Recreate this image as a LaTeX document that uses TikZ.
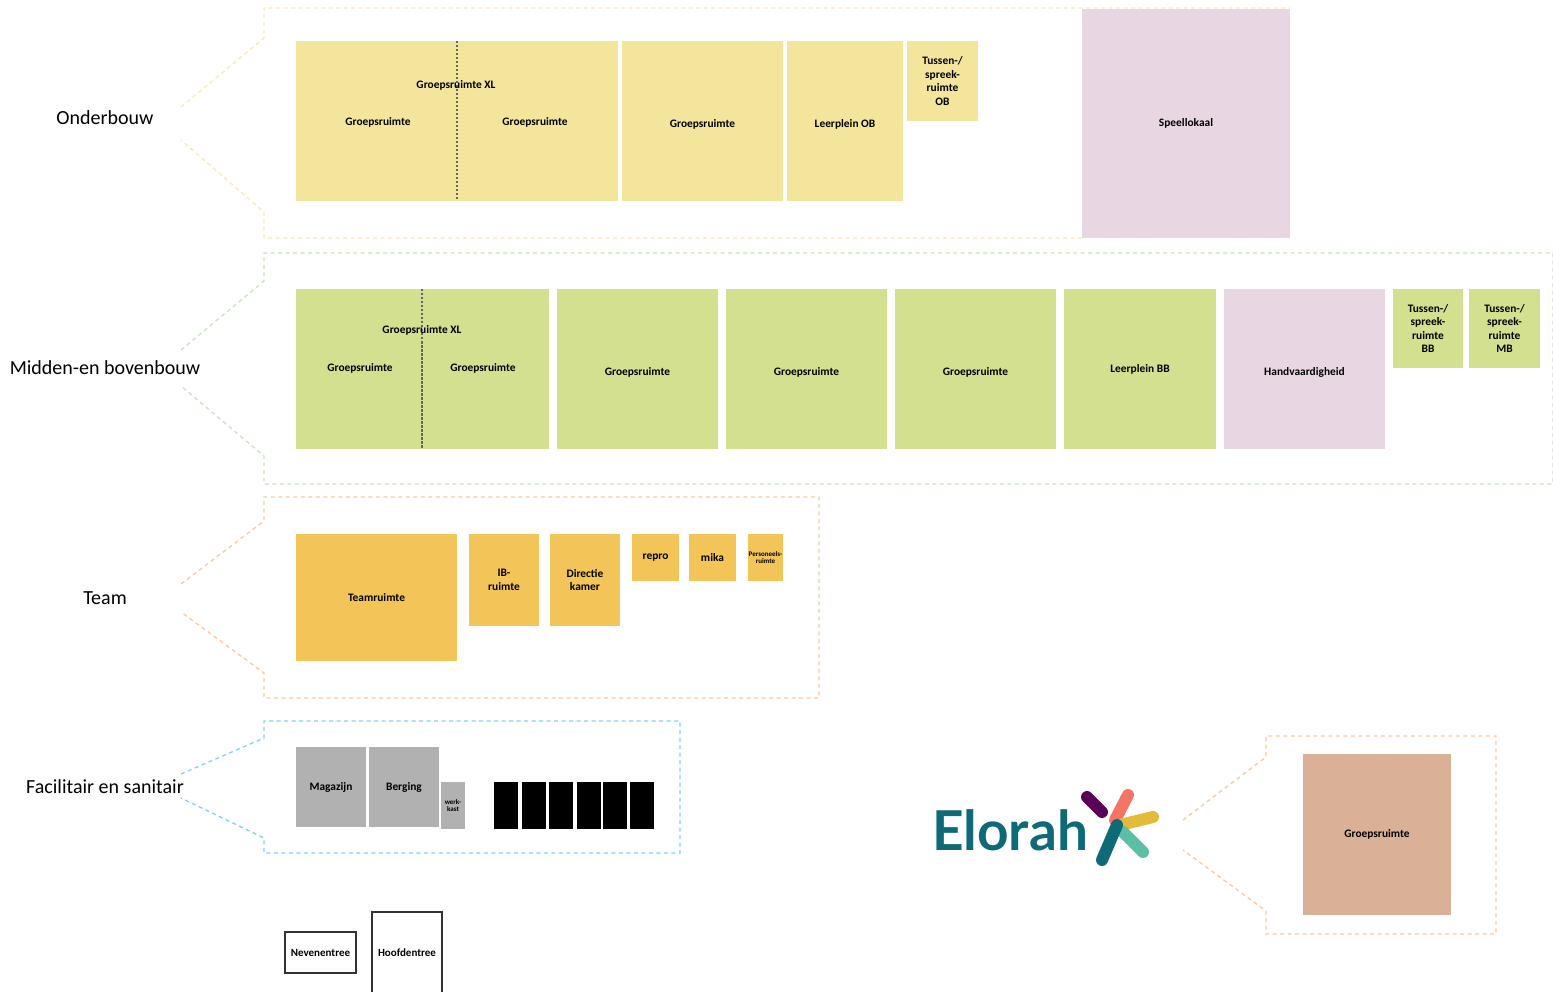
\documentclass[tikz,border=0pt]{standalone}
\usepackage{fontspec}
\setmainfont{Carlito}
\newfontfamily\logofont{Lato}
\usetikzlibrary{positioning}
\definecolor{geel}{HTML}{F3E69C}
\definecolor{groen}{HTML}{D3E08F}
\definecolor{oranje}{HTML}{F3C558}
\definecolor{roze}{HTML}{E8D7E3}
\definecolor{grijs}{HTML}{B0B1B0}
\definecolor{bruin}{HTML}{DAB196}
\definecolor{teal}{HTML}{0F6A78}
\definecolor{kadergeel}{HTML}{FBE9B4}
\definecolor{kadergroen}{HTML}{C6E4BF}
\definecolor{kaderoranje}{HTML}{F9C99C}
\definecolor{kaderblauw}{HTML}{7FD3EF}
\tikzstyle{room} = [rectangle, inner sep=0pt, outer sep=0pt, align=center,
    font=\fontsize{11.4}{13.6}\selectfont\bfseries]
\tikzstyle{klein} = [font=\fontsize{7}{7.5}\selectfont\bfseries]
\tikzstyle{lager} = [label={[room,yshift=-3pt]center:#1}]
\tikzstyle{kader} = [dash pattern=on 4pt off 3.5pt, line width=1.3pt]
\tikzstyle{tussenwand} = [draw=black!60, dash pattern=on 2.5pt off 1.5pt, line width=1.6pt]
\tikzstyle{zone} = [font=\fontsize{20}{22}\selectfont]
\tikzstyle{entree} = [room, draw=black!80, line width=2.4pt, font=\fontsize{11}{13}\selectfont\bfseries]
\tikzstyle{logostreep} = [line width=12pt, line cap=round]

\begin{document}
\begin{tikzpicture}[x=1pt,y=-1pt,node distance=4pt]
  \useasboundingbox (0,0) rectangle (1553,992);

  % kaders
  \draw [kader,draw=kadergeel] (181,107) -- (264,38) -- (264,8) -- (1290,8) (1082,238) -- (264,238) -- (264,212) -- (181,140);
  \draw [kader,draw=kadergroen] (181,350) -- (264,281) -- (264,253) -- (1553,253) -- (1553,484) -- (264,484) -- (264,456) -- (181,386);
  \draw [kader,draw=kaderoranje] (181,584) -- (264,521) -- (264,497) -- (819,497) -- (819,698) -- (264,698) -- (264,673) -- (181,612);
  \draw [kader,draw=kaderblauw] (181,774) -- (264,738) -- (264,721) -- (680,721) -- (680,853) -- (264,853) -- (264,838) -- (181,798);
  \draw [kader,draw=kaderoranje] (1183,820) -- (1266,757) -- (1266,736) -- (1496,736) -- (1496,934) -- (1266,934) -- (1266,911) -- (1183,850);

  \node [zone] (onderbouw) at (105,118) {Onderbouw};
  \node [zone] (midden) at (105,368) {Midden-en bovenbouw};
  \node [zone] (team) at (105,598) {Team};
  \node [zone] (facilitair) at (105,787) {Facilitair en sanitair};

  % onderbouw
  \node [room,fill=geel,anchor=north west,minimum width=322pt,minimum height=160pt] (ob1) at (296,41) {};
  \node [room,fill=geel,minimum width=161pt,minimum height=160pt,right=of ob1,lager=Groepsruimte] (ob2) {};
  \node [room,fill=geel,minimum width=116pt,minimum height=160pt,right=of ob2,lager=Leerplein OB] (ob3) {};
  \node [room,fill=geel,minimum width=71pt,minimum height=80pt,right=of ob3.north east,anchor=north west] (ob4) {Tussen-/\\spreek-\\ruimte\\OB};
  \node [room,fill=roze,anchor=north west,minimum width=208pt,minimum height=229pt] (speel) at (1082,9) {Speellokaal};
  \draw [tussenwand] (ob1.north) -- (ob1.south);
  \node [room] (ob1xl) at (456,85) {Groepsruimte XL};
  \node [room] (ob1a) at (378,122) {Groepsruimte};
  \node [room] (ob1b) at (535,122) {Groepsruimte};

  % midden- en bovenbouw
  \node [room,fill=groen,anchor=north west,minimum width=253pt,minimum height=160pt] (bb1) at (296,289) {};
  \node [room,fill=groen,minimum width=161pt,minimum height=160pt,right=8pt of bb1,lager=Groepsruimte] (bb2) {};
  \node [room,fill=groen,minimum width=161pt,minimum height=160pt,right=8pt of bb2,lager=Groepsruimte] (bb3) {};
  \node [room,fill=groen,minimum width=161pt,minimum height=160pt,right=8pt of bb3,lager=Groepsruimte] (bb4) {};
  \node [room,fill=groen,minimum width=152pt,minimum height=160pt,right=8pt of bb4] (bb5) {Leerplein BB};
  \node [room,fill=roze,minimum width=161pt,minimum height=160pt,right=8pt of bb5,lager=Handvaardigheid] (hand) {};
  \node [room,fill=groen,minimum width=70pt,minimum height=79pt,right=8pt of hand.north east,anchor=north west] (bb6) {Tussen-/\\spreek-\\ruimte\\BB};
  \node [room,fill=groen,minimum width=71pt,minimum height=79pt,right=6pt of bb6] (bb7) {Tussen-/\\spreek-\\ruimte\\MB};
  \draw [tussenwand] (422,289) -- (422,449);
  \node [room] (bb1xl) at (422,330) {Groepsruimte XL};
  \node [room] (bb1a) at (360,368) {Groepsruimte};
  \node [room] (bb1b) at (483,368) {Groepsruimte};

  % team
  \node [room,fill=oranje,anchor=north west,minimum width=161pt,minimum height=127pt] (teamr) at (296,534) {Teamruimte};
  \node [room,fill=oranje,minimum width=70pt,minimum height=92pt,right=12pt of teamr.north east,anchor=north west] (ib) {IB-\\ruimte};
  \node [room,fill=oranje,minimum width=70pt,minimum height=92pt,right=11pt of ib] (directie) {Directie\\kamer};
  \node [room,fill=oranje,minimum width=47pt,minimum height=47pt,right=12pt of directie.north east,anchor=north west] (repro) {repro};
  \node [room,fill=oranje,minimum width=47pt,minimum height=47pt,right=10pt of repro] (mika) {mika};
  \node [room,klein,fill=oranje,minimum width=35pt,minimum height=47pt,right=12pt of mika] (personeel) {Personeels-\\ruimte};

  % facilitair en sanitair
  \node [room,fill=grijs,anchor=north west,minimum width=70pt,minimum height=80pt] (magazijn) at (296,747) {Magazijn};
  \node [room,fill=grijs,minimum width=70pt,minimum height=80pt,right=3pt of magazijn] (berging) {Berging};
  \node [room,klein,fill=grijs,anchor=north west,minimum width=24pt,minimum height=47pt] (kast) at (441,782) {werk-\\kast};
  \node [room,fill=black,anchor=north west,minimum width=24pt,minimum height=47pt] (wc1) at (494,782) {};
  \node [room,fill=black,minimum width=24pt,minimum height=47pt,right=4pt of wc1] (wc2) {};
  \node [room,fill=black,minimum width=24pt,minimum height=47pt,right=3pt of wc2] (wc3) {};
  \node [room,fill=black,minimum width=24pt,minimum height=47pt,right=4pt of wc3] (wc4) {};
  \node [room,fill=black,minimum width=24pt,minimum height=47pt,right=2pt of wc4] (wc5) {};
  \node [room,fill=black,minimum width=24pt,minimum height=47pt,right=3pt of wc5] (wc6) {};

  % entrees
  \node [entree,anchor=north west,minimum width=71pt,minimum height=41pt] (neven) at (285,932) {Nevenentree};
  \node [entree,anchor=north west,minimum width=70pt,minimum height=82pt] (hoofd) at (372,912) {Hoofdentree};

  % legenda
  \node [room,fill=bruin,anchor=north west,minimum width=148pt,minimum height=161pt] (legenda) at (1303,754) {Groepsruimte};

  % logo
  \node [inner sep=0pt,text=teal,font=\fontsize{55}{55}\selectfont\logofont\bfseries] (logo) at (1010,830) {Elorah};
  \draw [logostreep,draw=violet!70!black] (1087,797) -- (1102,812);
  \draw [logostreep,draw={rgb,255:red,243;green,117;blue,99}] (1128,795) -- (1115,820);
  \draw [logostreep,draw={rgb,255:red,228;green,186;blue,58}] (1153,817) -- (1120,825);
  \draw [logostreep,draw={rgb,255:red,90;green,191;blue,165}] (1143,852) -- (1123,832);
  \draw [logostreep,draw=teal] (1102,860) -- (1117,825);
\end{tikzpicture}
\end{document}
